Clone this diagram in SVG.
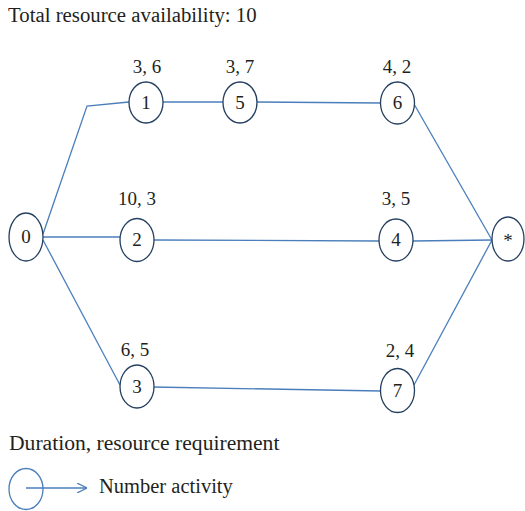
<svg xmlns="http://www.w3.org/2000/svg" width="525" height="511" viewBox="0 0 525 511">
<defs>
<style>
text{font-family:"Liberation Serif","Times New Roman",serif;fill:#231f20;}
.lbl{font-size:19px;text-anchor:middle;}
.num{font-size:19px;text-anchor:middle;}
.node ellipse{fill:#fff;stroke:#243f60;stroke-width:1.3;}
.edge{fill:none;stroke:#4a7ebb;stroke-width:1.3;}
</style>
<marker id="open" viewBox="0 0 10 10" refX="10" refY="5" markerWidth="10" markerHeight="10" markerUnits="userSpaceOnUse" orient="auto">
<path d="M0,0 L10,5 L0,10" fill="none" stroke="#4a7ebb" stroke-width="1.2"/>
</marker>
</defs>
<rect width="525" height="511" fill="#fff"/>
<text x="8" y="22" style="font-size:20.8px">Total resource availability: 10</text>
<g id="connectors">
<polyline class="edge" points="43,234 87,106 129,102"/>
<line class="edge" x1="163" y1="102" x2="223" y2="102"/>
<line class="edge" x1="257" y1="102" x2="381" y2="103"/>
<line class="edge" x1="414" y1="104" x2="492" y2="240"/>
<line class="edge" x1="43" y1="237" x2="120" y2="237"/>
<line class="edge" x1="154" y1="240" x2="379" y2="241"/>
<line class="edge" x1="413" y1="241" x2="492" y2="240"/>
<line class="edge" x1="43" y1="240" x2="120" y2="385"/>
<line class="edge" x1="153" y1="387" x2="381" y2="391"/>
<line class="edge" x1="414" y1="385" x2="492" y2="240"/>
</g>
<g id="node0" class="node"><ellipse cx="26" cy="237" rx="17" ry="24"/><text class="num" x="26" y="243">0</text></g>
<g id="node1" class="node"><ellipse cx="146" cy="102.5" rx="17" ry="20.5"/><text class="num" x="146" y="108.5">1</text><text class="lbl" x="147" y="73">3, 6</text></g>
<g id="node5" class="node"><ellipse cx="240" cy="102.5" rx="17" ry="20.5"/><text class="num" x="240" y="108.5">5</text><text class="lbl" x="240" y="73">3, 7</text></g>
<g id="node6" class="node"><ellipse cx="397.5" cy="103" rx="17" ry="21"/><text class="num" x="397.5" y="109">6</text><text class="lbl" x="397" y="73">4, 2</text></g>
<g id="node2" class="node"><ellipse cx="137" cy="240" rx="17" ry="21.5"/><text class="num" x="137" y="246">2</text><text class="lbl" x="137" y="205">10, 3</text></g>
<g id="node4" class="node"><ellipse cx="396" cy="240" rx="17" ry="21"/><text class="num" x="396" y="246">4</text><text class="lbl" x="396" y="205">3, 5</text></g>
<g id="nodeEnd" class="node"><ellipse cx="508" cy="239" rx="16" ry="22"/><text class="num" x="508" y="247">*</text></g>
<g id="node3" class="node"><ellipse cx="137" cy="386.5" rx="17" ry="21.5"/><text class="num" x="137" y="392.5">3</text><text class="lbl" x="135" y="356">6, 5</text></g>
<g id="node7" class="node"><ellipse cx="397.5" cy="390.5" rx="17" ry="22"/><text class="num" x="397.5" y="396.5">7</text><text class="lbl" x="400" y="357">2, 4</text></g>
<g id="legend">
<text x="9" y="450" style="font-size:21.6px">Duration, resource requirement</text>
<ellipse cx="26" cy="489" rx="17" ry="20.5" fill="none" stroke="#4a7ebb" stroke-width="1.3"/>
<line class="edge" x1="26" y1="488" x2="87" y2="488" marker-end="url(#open)"/>
<text x="99" y="493" style="font-size:20.5px">Number activity</text>
</g>
</svg>
